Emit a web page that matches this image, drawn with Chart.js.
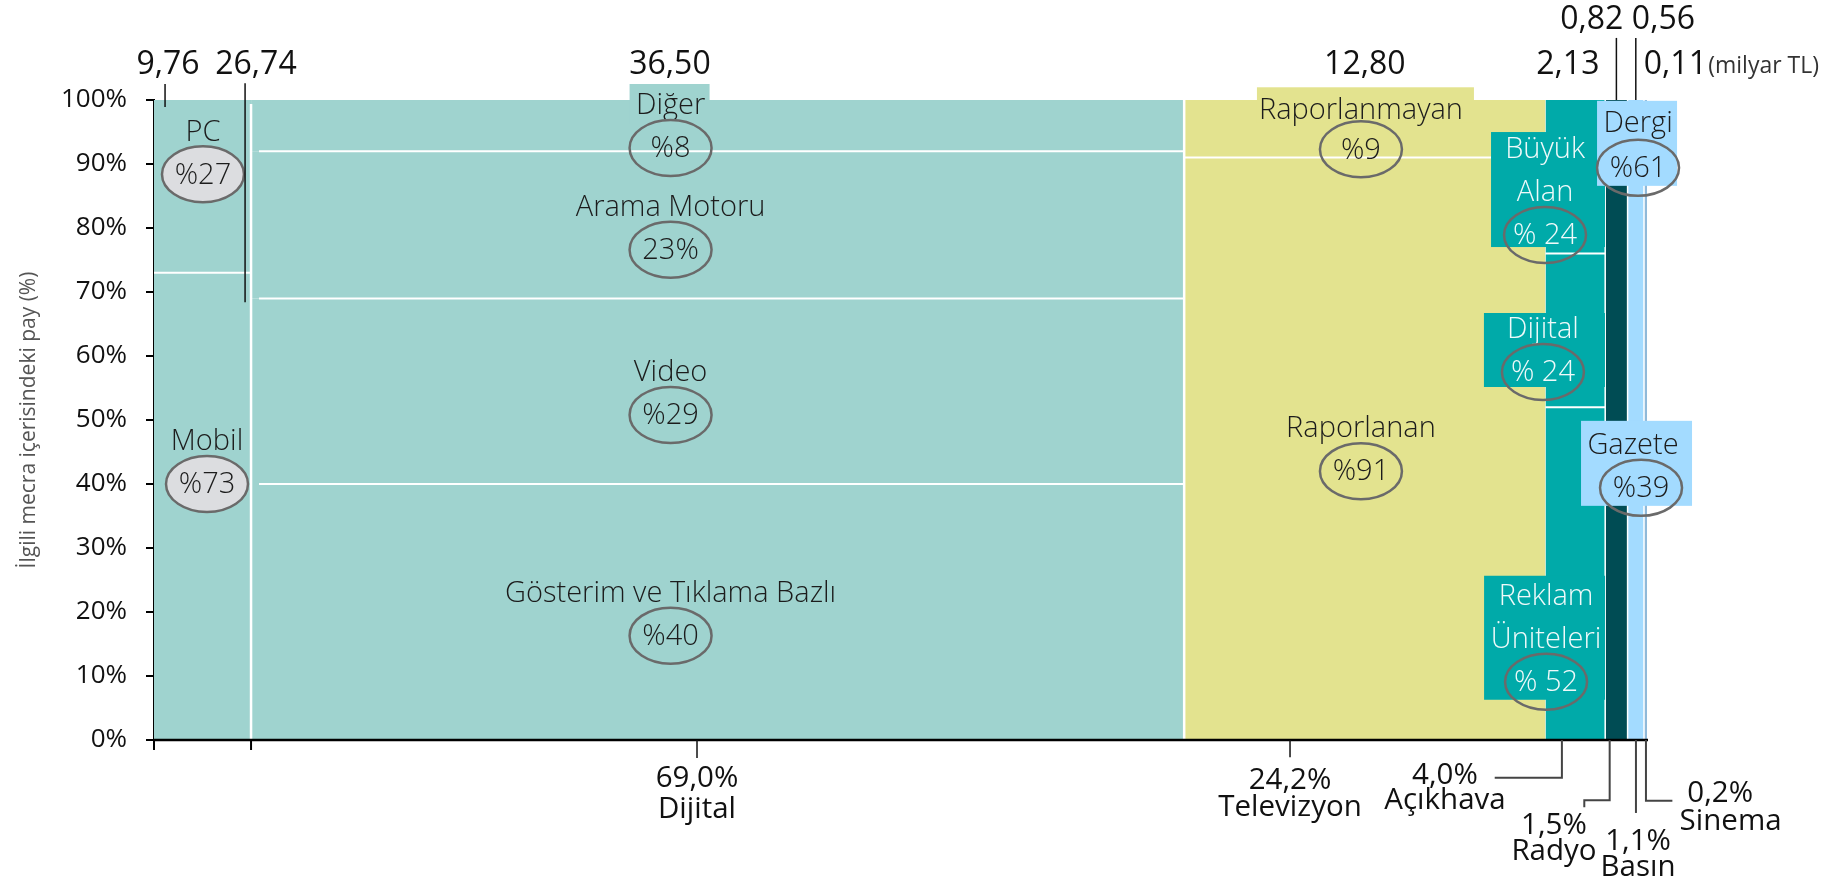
<!DOCTYPE html>
<html>
<head>
<meta charset="utf-8">
<script src="https://cdn.jsdelivr.net/npm/chart.js@4.4.1/dist/chart.umd.min.js"></script>
<style>
  html, body { margin: 0; padding: 0; background: #fff; }
  canvas { display: block; }
</style>
</head>
<body>
<canvas id="mekko" width="1843" height="884"></canvas>
<script>
// share of total ad spend (%) and spend in milyar TL
const mediaNames = ['Dijital', 'Televizyon', 'Açıkhava', 'Radyo', 'Basın', 'Sinema']
const mediaShare = [69.0, 24.2, 4.0, 1.5, 1.1, 0.2]
const mediaSpend = ['36,50', '12,80', '2,13', '0,82', '0,56', '0,11']

// breakdowns inside each medium (% of that medium), bottom to top
const deviceNames = ['Mobil', 'PC']
const deviceShare = [73, 27]
const deviceSpend = ['26,74', '9,76']
const digitalNames = ['Gösterim ve Tıklama Bazlı', 'Video', 'Arama Motoru', 'Diğer']
const digitalShare = [40, 29, 23, 8]
const tvNames = ['Raporlanan', 'Raporlanmayan']
const tvShare = [91, 9]
const outdoorNames = ['Reklam Üniteleri', 'Dijital', 'Büyük Alan']
const outdoorShare = [52, 24, 24]
const pressNames = ['Gazete', 'Dergi']
const pressShare = [39, 61]

const yTicks = [0, 10, 20, 30, 40, 50, 60, 70, 80, 90, 100]

const FONT = '"Open Sans", "Noto Sans", sans-serif'
const DEVICE_STRIP = 6.5 // width of the Mobil/PC strip inside Dijital (x units)
const mediaColors = ['#9fd3cf', '#e3e38f', '#00aaa9', '#004c54', '#a3dbff', '#8fb9d9']
const subShares = [null, tvShare, outdoorShare, [100], pressShare, [100]]

// column edges on the x axis
let edges = [0]
mediaShare.forEach(function (s, i) { edges.push(edges[i] + s) })

function buildColumns () {
  let columns = []
  mediaShare.forEach(function (share, i) {
    let x0 = edges[i], x1 = edges[i + 1]
    if (i === 0) {
      columns.push({ x0: x0, x1: x0 + DEVICE_STRIP, parts: deviceShare, color: mediaColors[0], inset: 0 })
      columns.push({ x0: x0 + DEVICE_STRIP, x1: x1, parts: digitalShare, color: mediaColors[0], inset: 8 })
    } else {
      columns.push({ x0: x0, x1: x1, parts: subShares[i], color: mediaColors[i], inset: 0 })
    }
  })
  return columns
}
const columns = buildColumns()

function buildDatasets () {
  let sets = []
  columns.forEach(function (col) {
    let bottom = 0
    col.parts.forEach(function (p) {
      let top = bottom + p
      sets.push({
        data: [{ x: col.x0, y: top }, { x: col.x1, y: top }],
        fill: { value: bottom },
        backgroundColor: col.color,
        borderColor: 'transparent',
        borderWidth: 0,
        pointRadius: 0
      })
      bottom = top
    })
  })
  return sets
}

// label positions (x, y of the value ring centre, axis units)
const segmentLabels = [
  { name: deviceNames[1], value: '%' + deviceShare[1], x: 3.28, y: 88.4, ring: '#dcdde0' },
  { name: deviceNames[0], value: '%' + deviceShare[0], x: 3.55, y: 40.0, ring: '#dcdde0' },
  { name: digitalNames[3], value: '%' + digitalShare[3], x: 34.6, y: 92.5, box: [-41, -64, 80, 40], color: mediaColors[0] },
  { name: digitalNames[2], value: digitalShare[2] + '%', x: 34.6, y: 76.6 },
  { name: digitalNames[1], value: '%' + digitalShare[1], x: 34.6, y: 50.8 },
  { name: digitalNames[0], value: '%' + digitalShare[0], x: 34.6, y: 16.3 },
  { name: tvNames[1], value: '%' + tvShare[1], x: 80.84, y: 92.3, box: [-104, -62, 217, 35], color: mediaColors[1], lift: 39 },
  { name: tvNames[0], value: '%' + tvShare[0], x: 80.84, y: 42.0 },
  { name: outdoorNames[2], value: '% ' + outdoorShare[2], x: 93.17, y: 78.9, box: [-54, -103, 114, 115], color: mediaColors[2], light: true, wrap: true },
  { name: outdoorNames[1], value: '% ' + outdoorShare[1], x: 93.03, y: 57.5, box: [-59, -59, 121, 74], color: mediaColors[2], light: true },
  { name: outdoorNames[0], value: '% ' + outdoorShare[0], x: 93.24, y: 9.1, box: [-62, -106, 121, 124], color: mediaColors[2], light: true, wrap: true },
  { name: pressNames[1], value: '%' + pressShare[1], x: 99.40, y: 89.4, box: [-41, -67, 80, 85], color: mediaColors[4], lift: 44 },
  { name: pressNames[0], value: '%' + pressShare[0], x: 99.60, y: 39.4, box: [-60, -67, 111, 85], color: mediaColors[4], shift: -8 }
]

// spend labels above the plot, with optional leader line [x, yFrom, yTo]
const spendLabels = [
  { text: deviceSpend[1], x: 0.94, y: 105.5, lead: [0.74, 102.5, 98.9] },
  { text: deviceSpend[0], x: 6.83, y: 105.5, lead: [6.1, 102.6, 68.4] },
  { text: mediaSpend[0], x: 34.56, y: 105.5 },
  { text: mediaSpend[1], x: 81.1, y: 105.5 },
  { text: mediaSpend[2], x: 94.7, y: 105.5 },
  { text: mediaSpend[3], x: 96.3, y: 112.5, lead: [97.95, 109.7, 100] },
  { text: mediaSpend[4], x: 101.1, y: 112.5, lead: [99.25, 109.7, 100] },
  { text: mediaSpend[5], x: 101.9, y: 105.5 }
]

// medium labels under the axis: text anchor and leader path
const shareFmt = function (v) { return v.toFixed(1).replace('.', ',') + '%' }
const mediaLabels = [
  { i: 0, x: 36.37, y: [-6.1, -10.9], path: [[36.37, 0], [36.37, -2.8]], tick: true },
  { i: 1, x: 76.09, y: [-6.4, -10.5], path: [[76.09, 0], [76.09, -2.7]], tick: true },
  { i: 2, x: 86.47, y: [-5.5, -9.4], path: [[94.3, 0], [94.3, -5.9], [89.8, -5.9]] },
  { i: 3, x: 93.77, y: [-13.3, -17.5], path: [[97.5, 0], [97.5, -9.4], [95.8, -9.4], [95.8, -10.5]] },
  { i: 4, x: 99.4, y: [-15.9, -20.0], path: [[99.26, 0], [99.26, -11.4]] },
  { i: 5, x: 104.9, y: [-8.3, -12.8], path: [[99.93, 0], [99.93, -9.5], [101.7, -9.5]] }
]

const annotate = {
  id: 'annotate',
  afterDraw (chart) {
    const ctx = chart.ctx
    const xs = chart.scales.x, ys = chart.scales.y
    const px = function (v) { return xs.getPixelForValue(v) }
    const py = function (v) { return ys.getPixelForValue(v) }
    const area = chart.chartArea
    ctx.save()

    // white seams between stacked parts
    ctx.strokeStyle = '#ffffff'
    ctx.lineWidth = 2
    columns.forEach(function (col) {
      let cum = 0
      col.parts.slice(0, -1).forEach(function (p) {
        cum += p
        ctx.beginPath()
        ctx.moveTo(px(col.x0) + col.inset, py(cum))
        ctx.lineTo(px(col.x1), py(cum))
        ctx.stroke()
      })
    })
    // white seams between columns
    ;[DEVICE_STRIP, edges[1], edges[3], edges[4], edges[5]].forEach(function (e, k) {
      ctx.lineWidth = k < 2 ? 2.5 : 1.5
      ctx.beginPath()
      ctx.moveTo(px(e), area.top + (k === 0 ? 4 : 0))
      ctx.lineTo(px(e), area.bottom)
      ctx.stroke()
    })

    // x axis line and small ticks
    ctx.strokeStyle = '#000'
    ctx.lineWidth = 2.5
    ctx.beginPath()
    ctx.moveTo(px(0), area.bottom)
    ctx.lineTo(px(100) + 1, area.bottom)
    ctx.stroke()
    ctx.lineWidth = 2
    ;[0, DEVICE_STRIP].forEach(function (e) {
      ctx.beginPath()
      ctx.moveTo(px(e), area.bottom)
      ctx.lineTo(px(e), area.bottom + 10)
      ctx.stroke()
    })

    // label boxes
    segmentLabels.forEach(function (l) {
      if (!l.box) return
      ctx.fillStyle = l.color
      ctx.fillRect(px(l.x) + l.box[0], py(l.y) + l.box[1], l.box[2], l.box[3])
    })

    ctx.textAlign = 'center'
    ctx.textBaseline = 'middle'
    segmentLabels.forEach(function (l) {
      const cx = px(l.x), cy = py(l.y)
      const lines = l.wrap ? l.name.split(' ') : [l.name]
      const lift = l.lift || 42
      ctx.fillStyle = l.light ? '#effafa' : '#1c1c1c'
      ctx.font = '300 29px ' + FONT
      lines.forEach(function (t, k) {
        ctx.fillText(t, cx + (l.shift || 0), cy - lift - (lines.length - 1 - k) * 43)
      })
      ctx.beginPath()
      ctx.ellipse(cx, cy, 41, 28, 0, 0, Math.PI * 2)
      if (l.ring) {
        ctx.fillStyle = l.ring
        ctx.fill()
      }
      ctx.strokeStyle = '#6a6a6a'
      ctx.lineWidth = 2.5
      ctx.stroke()
      ctx.fillStyle = l.light ? '#effafa' : '#1c1c1c'
      ctx.font = '300 29px ' + FONT
      ctx.fillText(l.value, cx, cy + 1)
    })

    // spend labels (milyar TL)
    ctx.fillStyle = '#111'
    ctx.strokeStyle = '#111'
    ctx.lineWidth = 1.5
    spendLabels.forEach(function (s) {
      ctx.font = '32px ' + FONT
      ctx.fillText(s.text, px(s.x), py(s.y))
      if (s.lead) {
        ctx.beginPath()
        ctx.moveTo(px(s.lead[0]), py(s.lead[1]))
        ctx.lineTo(px(s.lead[0]), py(s.lead[2]))
        ctx.stroke()
      }
    })
    ctx.textAlign = 'left'
    ctx.font = '23px ' + FONT
    ctx.fillStyle = '#333'
    ctx.fillText('(milyar TL)', px(104.1), py(105.3))

    // medium names under the axis
    ctx.textAlign = 'center'
    mediaLabels.forEach(function (m) {
      ctx.strokeStyle = m.tick ? '#111' : '#444'
      ctx.lineWidth = m.tick ? 1.5 : 2
      ctx.beginPath()
      m.path.forEach(function (p, k) {
        if (k === 0) ctx.moveTo(px(p[0]), py(p[1]))
        else ctx.lineTo(px(p[0]), py(p[1]))
      })
      ctx.stroke()
      ctx.fillStyle = '#111'
      ctx.font = '29.5px ' + FONT
      ctx.fillText(shareFmt(mediaShare[m.i]), px(m.x), py(m.y[0]))
      ctx.fillText(mediaNames[m.i], px(m.x + (m.i === 5 ? 0.7 : 0)), py(m.y[1]))
    })
    ctx.restore()
  }
}

new Chart(document.getElementById('mekko'), {
  type: 'line',
  data: { datasets: buildDatasets() },
  plugins: [annotate],
  options: {
    responsive: false,
    animation: false,
    events: [],
    layout: { padding: { left: 0, top: 100, right: 196, bottom: 144 } },
    plugins: { legend: { display: false }, tooltip: { enabled: false } },
    scales: {
      x: { type: 'linear', min: 0, max: 100, display: false },
      y: {
        type: 'linear',
        min: 0,
        max: 100,
        z: 1,
        afterBuildTicks: function (s) { s.ticks = yTicks.map(function (v) { return { value: v } }) },
        afterFit: function (s) { s.width = 154 },
        ticks: {
          callback: function (v) { return v + '%' },
          font: { size: 26, family: FONT },
          color: '#111',
          padding: 19
        },
        grid: { drawOnChartArea: false, tickLength: 8, color: '#000', lineWidth: 2 },
        border: { color: '#000', width: 2 },
        title: {
          display: true,
          text: 'İlgili mecra içerisindeki pay (%)',
          font: { size: 21, family: FONT },
          color: '#555',
          padding: { top: 16, bottom: 0 }
        }
      }
    }
  }
})
</script>
</body>
</html>
